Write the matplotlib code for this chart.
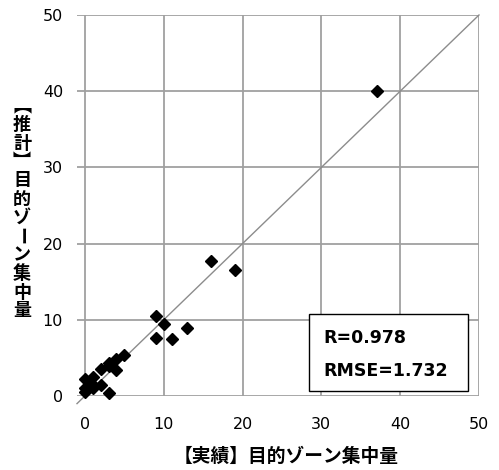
import matplotlib.pyplot as plt
from matplotlib.patches import Rectangle

# 実績 vs 推計 (目的ゾーン集中量)
jisseki = [37, 16, 19, 9, 10, 13, 9, 11, 5, 4, 3, 4, 2, 3, 2, 1, 0, 0, 0, 1, 0.5, 3, 1]
suikei = [40, 17.7, 16.6, 10.5, 9.5, 8.9, 7.6, 7.5, 5.4, 4.9, 4.3, 3.4, 3.5, 0.35, 1.4, 2.5, 2.2, 1.0, 0.5, 1.0, 1.6, 3.9, 1.5]
ticks = [0, 10, 20, 30, 40, 50]
stats = ['R=0.978', 'RMSE=1.732']

fig = plt.figure(figsize=(4.99, 4.70), dpi=100)
ax = fig.add_axes([77 / 499, 1 - 396 / 470, 402 / 499, 381 / 470])
ax.set_xlim(-1, 50)
ax.set_ylim(0, 50)
for s in ax.spines.values():
    s.set_visible(False)

# grid
for t in ticks:
    ax.axhline(t, color='#a0a0a0', lw=1.3, zorder=1)
    ax.plot([t, t], [0, 50], color='#a0a0a0', lw=1.3, zorder=1)

# 1:1 line
ax.plot([-1, 50], [-1, 50], color='#8c8c8c', lw=1.0, zorder=2, clip_on=False)

ax.plot(jisseki, suikei, 'D', color='black', ms=5.8, zorder=3, clip_on=False)

ax.set_xticks(ticks)
ax.set_yticks(ticks)
ax.tick_params(length=0, labelsize=11.5)
ax.tick_params(axis='x', pad=15)
ax.tick_params(axis='y', pad=10)

# stats box
ax.add_patch(Rectangle((0.577, 0.013), 0.396, 0.202, transform=ax.transAxes,
                       facecolor='white', edgecolor='black', lw=1.0, zorder=4))
ax.text(0.612, 0.152, stats[0], transform=ax.transAxes, fontsize=12.5,
        fontweight='bold', va='center', zorder=5)
ax.text(0.612, 0.066, stats[1], transform=ax.transAxes, fontsize=12.5,
        fontweight='bold', va='center', zorder=5)

jp = ['Noto Sans CJK JP', 'DejaVu Sans']
fig.text(286 / 499, 1 - 456 / 470, '【実績】目的ゾーン集中量', family=jp,
         fontsize=13.5, fontweight='bold', ha='center', va='center')

# y label, written vertically
ylab = ['︻', '推', '計', '︼', '目', '的', 'ゾ', 'ー', 'ン', '集', '中', '量']
y0, step = 106, 18.6
for i, ch in enumerate(ylab):
    rot = -90 if ch == 'ー' else 0
    fig.text(22 / 499, 1 - (y0 + i * step) / 470, ch, family=jp, fontsize=13,
             fontweight='bold', ha='center', va='center', rotation=rot)

fig.savefig('out.png', dpi=100)
